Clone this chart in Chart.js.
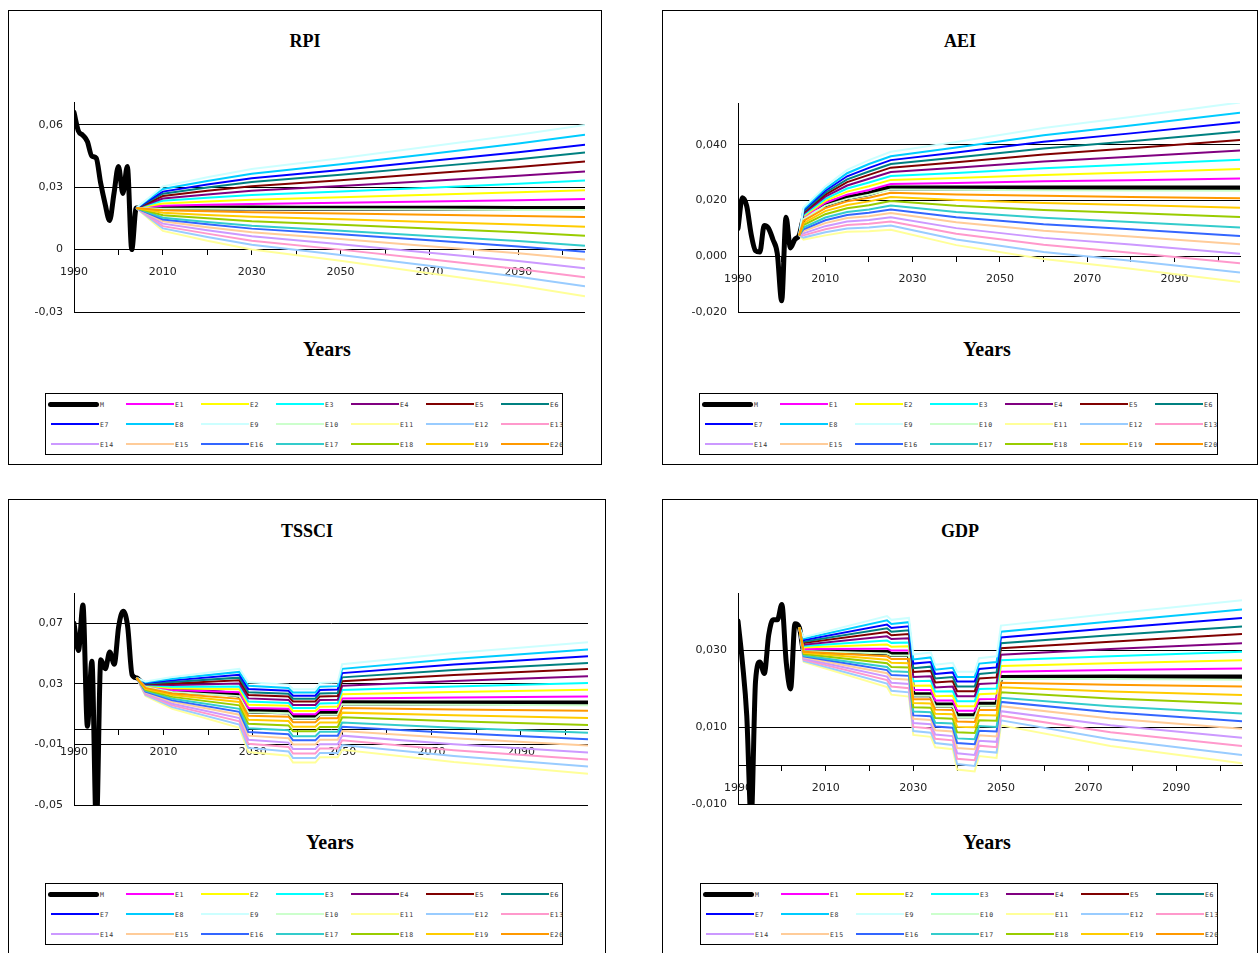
<!DOCTYPE html>
<html><head><meta charset="utf-8">
<script src="https://cdn.jsdelivr.net/npm/chart.js@4.4.1/dist/chart.umd.min.js"></script>
<style>
body{margin:0;width:1259px;height:953px;position:relative;background:#fff;overflow:hidden;font-family:"DejaVu Sans",sans-serif}
.panel{position:absolute;border:1px solid #000;box-sizing:border-box}
.ttl{position:absolute;font-family:"Liberation Serif",serif;font-weight:bold;transform:translate(-50%,-50%);white-space:nowrap;color:#000}
canvas{position:absolute}
.legend{position:absolute;border:1px solid #000;box-sizing:border-box;background:#fff}
.item{position:absolute;height:10px;display:flex;align-items:center;white-space:nowrap}
.ln{display:inline-block;flex:none}
.lb{font-family:"DejaVu Sans Mono",monospace;font-size:6.5px;letter-spacing:0.7px;color:#333;margin-left:1px;margin-top:2px}
</style></head><body>
<script>
const seriesNames = ['M','E1','E2','E3','E4','E5','E6','E7','E8','E9','E10','E11','E12','E13','E14','E15','E16','E17','E18','E19','E20'];
const seriesColors = ['#000000','#FF00FF','#FFFF00','#00FFFF','#800080','#800000','#008080','#0000FF','#00CCFF','#CCFFFF','#CCFFCC','#FFFF99','#99CCFF','#FF99CC','#CC99FF','#FFCC99','#3366FF','#33CCCC','#99CC00','#FFCC00','#FF9900'];
const histYears = [1990,1991,1992,1993,1994,1995,1996,1997,1998,1999,2000,2001,2002,2003,2004];
const xTickYears = [1990,2000,2010,2020,2030,2040,2050,2060,2070,2080,2090,2100];
const xLabelYears = [1990,2010,2030,2050,2070,2090];

// ---------- RPI ----------
const rpiYTicks = [-0.03, 0, 0.03, 0.06];
const rpiYLabels = ['-0,03','0','0,03','0,06'];
const rpiHist = [0.066,0.057,0.055,0.052,0.045,0.044,0.032,0.022,0.014,0.027,0.040,0.027,0.040,0.000,0.020];
const rpiYears = [2004,2010,2020,2030,2050,2070,2090,2105];
const rpiM   = [0.0200,0.0200,0.0200,0.0200,0.0199,0.0199,0.0198,0.0198];
const rpiE1  = [0.0200,0.0211,0.0216,0.0220,0.0226,0.0232,0.0238,0.0243];
const rpiE2  = [0.0200,0.0222,0.0232,0.0240,0.0252,0.0264,0.0276,0.0286];
const rpiE3  = [0.0200,0.0235,0.0249,0.0263,0.0280,0.0298,0.0317,0.0333];
const rpiE4  = [0.0200,0.0246,0.0265,0.0283,0.0306,0.0330,0.0355,0.0376];
const rpiE5  = [0.0200,0.0258,0.0283,0.0305,0.0334,0.0366,0.0397,0.0424];
const rpiE6  = [0.0200,0.0269,0.0299,0.0325,0.0360,0.0398,0.0435,0.0467];
const rpiE7  = [0.0200,0.0279,0.0313,0.0343,0.0383,0.0426,0.0468,0.0505];
const rpiE8  = [0.0200,0.0292,0.0330,0.0365,0.0411,0.0460,0.0510,0.0552];
const rpiE9  = [0.0200,0.0304,0.0348,0.0388,0.0440,0.0496,0.0552,0.0600];
const rpiE10 = [0.0200,0.0197,0.0196,0.0195,0.0194,0.0193,0.0191,0.0190];
const rpiE11 = [0.0200,0.0090,0.0043,0.0001,-0.0054,-0.0114,-0.0173,-0.0224];
const rpiE12 = [0.0200,0.0102,0.0061,0.0023,-0.0026,-0.0078,-0.0131,-0.0176];
const rpiE13 = [0.0200,0.0113,0.0077,0.0043,0.0000,-0.0046,-0.0093,-0.0133];
const rpiE14 = [0.0200,0.0125,0.0093,0.0064,0.0026,-0.0015,-0.0055,-0.0090];
const rpiE15 = [0.0200,0.0136,0.0108,0.0083,0.0051,0.0016,-0.0018,-0.0048];
const rpiE16 = [0.0200,0.0145,0.0122,0.0101,0.0074,0.0045,0.0015,-0.0010];
const rpiE17 = [0.0200,0.0153,0.0133,0.0115,0.0091,0.0066,0.0041,0.0019];
const rpiE18 = [0.0200,0.0165,0.0151,0.0137,0.0120,0.0102,0.0083,0.0067];
const rpiE19 = [0.0200,0.0177,0.0167,0.0158,0.0146,0.0133,0.0121,0.0110];
const rpiE20 = [0.0200,0.0189,0.0184,0.0180,0.0174,0.0168,0.0162,0.0157];

// ---------- AEI ----------
const aeiYTicks = [-0.02, 0, 0.02, 0.04];
const aeiYLabels = ['-0,020','0,000','0,020','0,040'];
const aeiHist = [0.010,0.021,0.018,0.008,0.002,0.0015,0.011,0.010,0.006,0.001,-0.016,0.014,0.003,0.006,0.0075];
const aeiYears = [2004,2005,2010,2015,2020,2025,2040,2060,2080,2105];
const aeiM   = [0.0075,0.0135,0.0185,0.0210,0.0225,0.0245,0.0245,0.0245,0.0245,0.0245];
const aeiE1  = [0.0075,0.0139,0.0192,0.0221,0.0238,0.0259,0.0263,0.0269,0.0273,0.0279];
const aeiE2  = [0.0075,0.0144,0.0199,0.0232,0.0251,0.0274,0.0281,0.0292,0.0301,0.0313];
const aeiE3  = [0.0075,0.0148,0.0206,0.0243,0.0265,0.0288,0.0299,0.0316,0.0329,0.0346];
const aeiE4  = [0.0075,0.0153,0.0214,0.0254,0.0278,0.0302,0.0318,0.0340,0.0357,0.0380];
const aeiE5  = [0.0075,0.0157,0.0221,0.0266,0.0292,0.0318,0.0337,0.0365,0.0388,0.0417];
const aeiE6  = [0.0075,0.0161,0.0228,0.0276,0.0304,0.0331,0.0354,0.0387,0.0413,0.0448];
const aeiE7  = [0.0075,0.0166,0.0235,0.0287,0.0317,0.0345,0.0372,0.0411,0.0441,0.0481];
const aeiE8  = [0.0075,0.0170,0.0242,0.0298,0.0331,0.0359,0.0390,0.0434,0.0469,0.0515];
const aeiE9  = [0.0075,0.0175,0.0250,0.0310,0.0345,0.0375,0.0410,0.0460,0.0500,0.0552];
const aeiE10 = [0.0075,0.0133,0.0182,0.0206,0.0221,0.0240,0.0239,0.0237,0.0236,0.0235];
const aeiE11 = [0.0075,0.0060,0.0075,0.0088,0.0090,0.0095,0.0040,-0.0010,-0.0045,-0.0092];
const aeiE12 = [0.0075,0.0067,0.0086,0.0100,0.0103,0.0110,0.0060,0.0015,-0.0016,-0.0058];
const aeiE13 = [0.0075,0.0075,0.0097,0.0112,0.0117,0.0125,0.0081,0.0041,0.0013,-0.0025];
const aeiE14 = [0.0075,0.0082,0.0108,0.0125,0.0130,0.0140,0.0101,0.0066,0.0042,0.0009];
const aeiE15 = [0.0075,0.0090,0.0119,0.0137,0.0144,0.0155,0.0122,0.0092,0.0071,0.0043];
const aeiE16 = [0.0075,0.0097,0.0129,0.0148,0.0156,0.0168,0.0140,0.0115,0.0097,0.0073];
const aeiE17 = [0.0075,0.0103,0.0139,0.0159,0.0168,0.0182,0.0159,0.0138,0.0123,0.0103];
const aeiE18 = [0.0075,0.0112,0.0151,0.0172,0.0183,0.0198,0.0181,0.0166,0.0155,0.0141];
const aeiE19 = [0.0075,0.0119,0.0162,0.0184,0.0197,0.0213,0.0202,0.0191,0.0184,0.0174];
const aeiE20 = [0.0075,0.0127,0.0173,0.0197,0.0210,0.0228,0.0222,0.0217,0.0213,0.0208];

// ---------- TSSCI ----------
const tsYTicks = [-0.05, -0.01, 0.03, 0.07];
const tsYLabels = ['-0,05','-0,01','0,03','0,07'];
const tsHist = [0.070,0.052,0.082,0.002,0.045,-0.065,0.046,0.040,0.051,0.043,0.068,0.078,0.068,0.036,0.034];
const tsYears = [2004,2006,2012,2027,2029,2038,2039,2044,2045,2049,2050,2075,2105];
const tsM   = [0.0340,0.0280,0.0250,0.0225,0.0120,0.0115,0.0080,0.0080,0.0105,0.0105,0.0175,0.0174,0.0173];
const tsE1  = [0.0340,0.0284,0.0260,0.0244,0.0141,0.0135,0.0100,0.0100,0.0127,0.0128,0.0203,0.0210,0.0217];
const tsE2  = [0.0340,0.0288,0.0271,0.0264,0.0162,0.0155,0.0121,0.0121,0.0149,0.0150,0.0231,0.0247,0.0261];
const tsE3  = [0.0340,0.0292,0.0281,0.0283,0.0183,0.0174,0.0141,0.0141,0.0171,0.0173,0.0259,0.0283,0.0306];
const tsE4  = [0.0340,0.0295,0.0292,0.0302,0.0204,0.0194,0.0161,0.0161,0.0193,0.0195,0.0287,0.0319,0.0350];
const tsE5  = [0.0340,0.0300,0.0303,0.0323,0.0226,0.0216,0.0184,0.0184,0.0217,0.0220,0.0318,0.0359,0.0398];
const tsE6  = [0.0340,0.0303,0.0313,0.0341,0.0245,0.0234,0.0202,0.0202,0.0237,0.0240,0.0343,0.0392,0.0438];
const tsE7  = [0.0340,0.0307,0.0323,0.0360,0.0266,0.0254,0.0222,0.0222,0.0259,0.0263,0.0371,0.0428,0.0483];
const tsE8  = [0.0340,0.0311,0.0334,0.0379,0.0287,0.0273,0.0243,0.0243,0.0281,0.0285,0.0399,0.0464,0.0527];
const tsE9  = [0.0340,0.0315,0.0345,0.0400,0.0310,0.0295,0.0265,0.0265,0.0305,0.0310,0.0430,0.0504,0.0575];
const tsE10 = [0.0340,0.0278,0.0247,0.0219,0.0112,0.0106,0.0071,0.0071,0.0096,0.0096,0.0166,0.0162,0.0159];
const tsE11 = [0.0340,0.0220,0.0135,0.0010,-0.0150,-0.0175,-0.0220,-0.0220,-0.0185,-0.0185,-0.0135,-0.0216,-0.0293];
const tsE12 = [0.0340,0.0226,0.0146,0.0031,-0.0123,-0.0146,-0.0190,-0.0190,-0.0156,-0.0156,-0.0104,-0.0177,-0.0246];
const tsE13 = [0.0340,0.0232,0.0158,0.0053,-0.0096,-0.0117,-0.0160,-0.0160,-0.0127,-0.0127,-0.0073,-0.0138,-0.0200];
const tsE14 = [0.0340,0.0238,0.0169,0.0074,-0.0069,-0.0088,-0.0130,-0.0130,-0.0098,-0.0098,-0.0042,-0.0099,-0.0153];
const tsE15 = [0.0340,0.0244,0.0181,0.0096,-0.0042,-0.0059,-0.0100,-0.0100,-0.0069,-0.0069,-0.0011,-0.0060,-0.0107];
const tsE16 = [0.0340,0.0249,0.0191,0.0115,-0.0018,-0.0033,-0.0073,-0.0073,-0.0043,-0.0043,0.0017,-0.0025,-0.0065];
const tsE17 = [0.0340,0.0255,0.0202,0.0135,0.0007,-0.0007,-0.0046,-0.0046,-0.0017,-0.0017,0.0045,0.0010,-0.0023];
const tsE18 = [0.0340,0.0261,0.0214,0.0158,0.0036,0.0025,-0.0013,-0.0013,0.0015,0.0015,0.0079,0.0053,0.0029];
const tsE19 = [0.0340,0.0267,0.0226,0.0180,0.0063,0.0054,0.0017,0.0017,0.0044,0.0044,0.0110,0.0092,0.0075];
const tsE20 = [0.0340,0.0273,0.0237,0.0201,0.0090,0.0083,0.0047,0.0047,0.0073,0.0073,0.0141,0.0131,0.0122];

// ---------- GDP ----------
const gdpYTicks = [-0.01, 0.01, 0.03];
const gdpYLabels = ['-0,010','0,010','0,030'];
const gdpHist = [0.0377,0.027,0.013,-0.014,0.022,0.027,0.024,0.034,0.038,0.038,0.042,0.027,0.020,0.037,0.036];
const gdpYears = [2004,2005,2024,2025,2029,2030,2034,2035,2039,2040,2044,2045,2049,2050,2075,2105];
const gdpM   = [0.0360,0.0300,0.0295,0.0290,0.0290,0.0185,0.0185,0.0158,0.0158,0.0130,0.0130,0.0160,0.0160,0.0230,0.0231,0.0231];
const gdpE1  = [0.0360,0.0304,0.0305,0.0300,0.0300,0.0197,0.0197,0.0170,0.0170,0.0143,0.0143,0.0173,0.0174,0.0245,0.0249,0.0253];
const gdpE2  = [0.0360,0.0308,0.0316,0.0310,0.0311,0.0208,0.0209,0.0181,0.0182,0.0155,0.0155,0.0186,0.0188,0.0260,0.0267,0.0275];
const gdpE3  = [0.0360,0.0312,0.0326,0.0320,0.0321,0.0220,0.0221,0.0193,0.0194,0.0168,0.0168,0.0200,0.0201,0.0275,0.0285,0.0297];
const gdpE4  = [0.0360,0.0315,0.0337,0.0330,0.0332,0.0231,0.0233,0.0204,0.0206,0.0181,0.0181,0.0213,0.0215,0.0289,0.0304,0.0319];
const gdpE5  = [0.0360,0.0320,0.0348,0.0340,0.0343,0.0244,0.0247,0.0217,0.0220,0.0194,0.0194,0.0227,0.0230,0.0306,0.0323,0.0343];
const gdpE6  = [0.0360,0.0323,0.0358,0.0349,0.0353,0.0254,0.0258,0.0227,0.0231,0.0206,0.0206,0.0239,0.0243,0.0319,0.0340,0.0363];
const gdpE7  = [0.0360,0.0327,0.0368,0.0359,0.0363,0.0266,0.0270,0.0239,0.0243,0.0219,0.0219,0.0252,0.0256,0.0334,0.0358,0.0385];
const gdpE8  = [0.0360,0.0331,0.0379,0.0369,0.0374,0.0277,0.0282,0.0250,0.0255,0.0231,0.0231,0.0266,0.0270,0.0349,0.0376,0.0407];
const gdpE9  = [0.0360,0.0335,0.0390,0.0380,0.0385,0.0290,0.0295,0.0263,0.0268,0.0245,0.0245,0.0280,0.0285,0.0365,0.0396,0.0431];
const gdpE10 = [0.0360,0.0299,0.0292,0.0287,0.0287,0.0182,0.0182,0.0155,0.0155,0.0126,0.0126,0.0156,0.0156,0.0226,0.0226,0.0224];
const gdpE11 = [0.0360,0.0270,0.0205,0.0185,0.0180,0.0080,0.0075,0.0048,0.0043,-0.0010,-0.0015,0.0025,0.0020,0.0105,0.0051,0.0006];
const gdpE12 = [0.0360,0.0273,0.0214,0.0195,0.0191,0.0090,0.0086,0.0059,0.0054,0.0004,-0.0001,0.0038,0.0034,0.0118,0.0069,0.0028];
const gdpE13 = [0.0360,0.0276,0.0223,0.0206,0.0202,0.0101,0.0097,0.0070,0.0066,0.0018,0.0014,0.0052,0.0048,0.0130,0.0087,0.0051];
const gdpE14 = [0.0360,0.0279,0.0232,0.0216,0.0213,0.0111,0.0108,0.0081,0.0077,0.0032,0.0028,0.0065,0.0062,0.0142,0.0105,0.0073];
const gdpE15 = [0.0360,0.0282,0.0241,0.0227,0.0224,0.0122,0.0119,0.0092,0.0089,0.0046,0.0043,0.0079,0.0076,0.0155,0.0123,0.0096];
const gdpE16 = [0.0360,0.0285,0.0249,0.0236,0.0234,0.0131,0.0129,0.0102,0.0099,0.0059,0.0056,0.0091,0.0089,0.0166,0.0139,0.0116];
const gdpE17 = [0.0360,0.0287,0.0257,0.0246,0.0244,0.0141,0.0139,0.0112,0.0110,0.0071,0.0069,0.0103,0.0101,0.0177,0.0155,0.0136];
const gdpE18 = [0.0360,0.0291,0.0267,0.0257,0.0256,0.0152,0.0151,0.0124,0.0122,0.0087,0.0085,0.0118,0.0117,0.0191,0.0175,0.0161];
const gdpE19 = [0.0360,0.0294,0.0276,0.0268,0.0267,0.0163,0.0162,0.0135,0.0134,0.0101,0.0100,0.0132,0.0131,0.0204,0.0193,0.0184];
const gdpE20 = [0.0360,0.0297,0.0285,0.0278,0.0278,0.0173,0.0173,0.0146,0.0145,0.0115,0.0114,0.0145,0.0145,0.0216,0.0211,0.0206];

// ---------- layout ----------
const panels = [
  {title:'RPI', box:[8,10,602,465], titlePos:[305,41], yearsPos:[327,349], plot:[74,102,585,312], legend:[45,393,518,62],
   yMin:-0.03, yMax:0.071, yTicks:rpiYTicks, yLabels:rpiYLabels, hist:rpiHist, years:rpiYears, m:rpiM,
   e:[rpiE1,rpiE2,rpiE3,rpiE4,rpiE5,rpiE6,rpiE7,rpiE8,rpiE9,rpiE10,rpiE11,rpiE12,rpiE13,rpiE14,rpiE15,rpiE16,rpiE17,rpiE18,rpiE19,rpiE20]},
  {title:'AEI', box:[662,10,1258,465], titlePos:[960,41], yearsPos:[987,349], plot:[738,103,1240,312], legend:[699,393,519,62],
   yMin:-0.02, yMax:0.055, yTicks:aeiYTicks, yLabels:aeiYLabels, hist:aeiHist, years:aeiYears, m:aeiM,
   e:[aeiE1,aeiE2,aeiE3,aeiE4,aeiE5,aeiE6,aeiE7,aeiE8,aeiE9,aeiE10,aeiE11,aeiE12,aeiE13,aeiE14,aeiE15,aeiE16,aeiE17,aeiE18,aeiE19,aeiE20]},
  {title:'TSSCI', box:[8,499,606,962], titlePos:[307,531], yearsPos:[330,842], plot:[74,593,588,805], legend:[45,883,518,62],
   yMin:-0.05, yMax:0.09, yTicks:tsYTicks, yLabels:tsYLabels, hist:tsHist, years:tsYears, m:tsM,
   e:[tsE1,tsE2,tsE3,tsE4,tsE5,tsE6,tsE7,tsE8,tsE9,tsE10,tsE11,tsE12,tsE13,tsE14,tsE15,tsE16,tsE17,tsE18,tsE19,tsE20]},
  {title:'GDP', box:[662,499,1258,962], titlePos:[960,531], yearsPos:[987,842], plot:[738,593,1242,804], legend:[700,883,518,62],
   yMin:-0.01, yMax:0.045, yTicks:gdpYTicks, yLabels:gdpYLabels, hist:gdpHist, years:gdpYears, m:gdpM,
   e:[gdpE1,gdpE2,gdpE3,gdpE4,gdpE5,gdpE6,gdpE7,gdpE8,gdpE9,gdpE10,gdpE11,gdpE12,gdpE13,gdpE14,gdpE15,gdpE16,gdpE17,gdpE18,gdpE19,gdpE20]}
];

function addText(txt, pos, size){
  const d=document.createElement('div'); d.className='ttl'; d.textContent=txt;
  d.style.left=pos[0]+'px'; d.style.top=pos[1]+'px'; d.style.fontSize=size+'px';
  document.body.appendChild(d);
}

function makeLegend(lg){
  const L=document.createElement('div'); L.className='legend';
  Object.assign(L.style,{left:lg[0]+'px',top:lg[1]+'px',width:lg[2]+'px',height:lg[3]+'px'});
  const rowY=[10,30,50];
  seriesNames.forEach((name,i)=>{
    const row=Math.floor(i/7), col=i%7;
    const it=document.createElement('div'); it.className='item';
    const ln=document.createElement('span'); ln.className='ln';
    if(i===0){ Object.assign(ln.style,{width:'51px',height:'5px',borderRadius:'3px',background:'#000'}); it.style.left=(2+col*75)+'px'; }
    else { Object.assign(ln.style,{width:'48px',height:'2px',background:seriesColors[i]}); it.style.left=(5+col*75)+'px'; }
    it.style.top=(rowY[row]-5)+'px';
    const lb=document.createElement('span'); lb.className='lb'; lb.textContent=name;
    it.appendChild(ln); it.appendChild(lb); L.appendChild(it);
  });
  document.body.appendChild(L);
}

Chart.defaults.font.family='"DejaVu Sans", sans-serif';

panels.forEach(p=>{
  const box=document.createElement('div'); box.className='panel';
  Object.assign(box.style,{left:p.box[0]+'px',top:p.box[1]+'px',width:(p.box[2]-p.box[0])+'px',height:(p.box[3]-p.box[1])+'px'});
  document.body.appendChild(box);
  addText(p.title,p.titlePos,18);
  addText('Years',p.yearsPos,20);

  const YW=56, PT=22, PB=22, PR=5;
  const left=p.plot[0]-YW, top=p.plot[1]-PT, w=p.plot[2]-left+PR, h=p.plot[3]-top+PB;
  const c=document.createElement('canvas');
  c.width=w; c.height=h;
  Object.assign(c.style,{left:left+'px',top:top+'px',width:w+'px',height:h+'px'});
  document.body.appendChild(c);

  const mData = histYears.map((y,i)=>({x:y,y:p.hist[i]})).concat(p.years.slice(1).map((y,i)=>({x:y,y:p.m[i+1]})));
  const datasets=[{label:'M',data:mData,borderColor:'#000',backgroundColor:'#000',borderWidth:5,
    cubicInterpolationMode:'monotone',borderCapStyle:'round',borderJoinStyle:'round',order:21,pointRadius:0}];
  p.e.forEach((arr,i)=>{
    datasets.push({label:seriesNames[i+1],data:p.years.map((y,j)=>({x:y,y:arr[j]})),
      borderColor:seriesColors[i+1],backgroundColor:seriesColors[i+1],borderWidth:2,tension:0,order:20-i,pointRadius:0});
  });

  new Chart(c,{
    type:'line',
    data:{datasets},
    options:{
      responsive:false, animation:false, devicePixelRatio:1, events:[],
      layout:{padding:{top:PT,bottom:PB,right:PR,left:0}},
      plugins:{legend:{display:false},tooltip:{enabled:false}},
      elements:{point:{radius:0}},
      scales:{
        x:{type:'linear',min:1990,max:2105,position:{y:0},
          afterBuildTicks:s=>{s.ticks=xTickYears.map(v=>({value:v}));},
          ticks:{autoSkip:false,maxRotation:0,padding:11,color:'#222',font:{size:11},
            callback:v=>xLabelYears.includes(v)?String(v):''},
          grid:{drawOnChartArea:false,drawTicks:true,tickLength:5,color:'#000',lineWidth:1},
          border:{display:true,color:'#000',width:1}},
        y:{type:'linear',min:p.yMin,max:p.yMax,position:'left',
          afterFit:s=>{s.width=YW;},
          afterBuildTicks:s=>{s.ticks=p.yTicks.map(v=>({value:v}));},
          ticks:{padding:11,color:'#222',font:{size:11},callback:(v,i)=>p.yLabels[i]},
          grid:{drawTicks:false,color:'#000',lineWidth:1},
          border:{display:true,color:'#000',width:1}}
      }
    }
  });
  makeLegend(p.legend);
});
</script>
</body></html>
